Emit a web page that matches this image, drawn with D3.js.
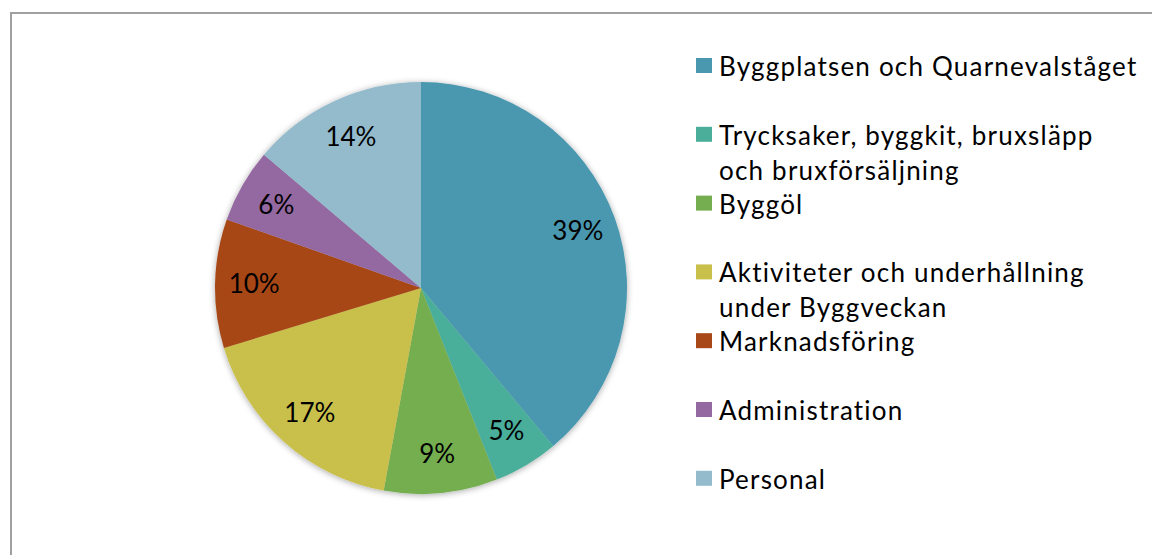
<!DOCTYPE html>
<html>
<head>
<meta charset="utf-8">
<script src="https://cdn.jsdelivr.net/npm/d3@7"></script>
<style>
  html, body { margin: 0; padding: 0; background: #fff; }
  svg { display: block; }
</style>
</head>
<body>
<div id="chart"></div>
<script>
// data
const categories = [
  "Byggplatsen och Quarnevalståget",
  "Trycksaker, byggkit, bruxsläpp|och bruxförsäljning",
  "Byggöl",
  "Aktiviteter och underhållning|under Byggveckan",
  "Marknadsföring",
  "Administration",
  "Personal"
];
const shares = [38.9, 5.1, 8.9, 17.4, 10.1, 5.8, 13.8];
const colors = ["#4a98b0", "#4aae9a", "#75ae50", "#c9bf4b", "#a84718", "#9468a0", "#93bbcc"];

const width = 1152, height = 555;

// pie dimensions
const cx = 421, cy = 288, radius = 206;
const labelRadius = radius * 0.81;

// legend layout
const legendX = 696, legendY = 76, legendStep = 68.8, lineHeight = 35, box = 16;

const svg = d3.select("#chart").append("svg")
  .attr("width", width)
  .attr("height", height);

// frame (only top and left edges visible)
svg.append("rect")
  .attr("x", 11).attr("y", 13)
  .attr("width", width + 20).attr("height", height + 20)
  .attr("fill", "none")
  .attr("stroke", "#a0a0a0")
  .attr("stroke-width", 2);

// soft shadow under the pie
const defs = svg.append("defs");
const shadow = defs.append("filter").attr("id", "shadow")
  .attr("x", "-10%").attr("y", "-10%").attr("width", "120%").attr("height", "120%");
shadow.append("feDropShadow")
  .attr("dx", 0).attr("dy", 1)
  .attr("stdDeviation", 3)
  .attr("flood-color", "#000")
  .attr("flood-opacity", 0.35);

const pie = d3.pie().value(d => d).sort(null);
const arc = d3.arc().innerRadius(0).outerRadius(radius);
const labelArc = d3.arc().innerRadius(labelRadius).outerRadius(labelRadius);

const pieGroup = svg.append("g")
  .attr("transform", `translate(${cx}, ${cy})`);

const arcs = pie(shares);

pieGroup.append("g")
  .attr("filter", "url(#shadow)")
  .selectAll("path")
  .data(arcs)
  .enter()
  .append("path")
  .attr("d", arc)
  .attr("fill", (d, i) => colors[i]);

// percentage labels
pieGroup.selectAll(".slice-label")
  .data(arcs)
  .enter()
  .append("text")
  .attr("class", "slice-label")
  .attr("transform", d => `translate(${labelArc.centroid(d)})`)
  .attr("text-anchor", "middle")
  .attr("dy", "0.35em")
  .style("font-family", "Lato, 'Open Sans', sans-serif")
  .style("font-size", "26px")
  .style("fill", "#000")
  .text(d => `${Math.round(d.data)}%`);

// legend
const legend = svg.append("g");

const rows = legend.selectAll(".legend-row")
  .data(categories)
  .enter()
  .append("g")
  .attr("class", "legend-row")
  .attr("transform", (d, i) => `translate(${legendX}, ${legendY + i * legendStep})`);

rows.append("rect")
  .attr("x", 0)
  .attr("y", -18)
  .attr("width", box)
  .attr("height", 15)
  .attr("fill", (d, i) => colors[i]);

rows.append("text")
  .attr("x", 23)
  .attr("y", 0)
  .style("font-family", "Lato, 'Noto Sans', sans-serif")
  .style("font-size", "26px")
  .style("letter-spacing", "1.2px")
  .style("fill", "#000")
  .each(function (d) {
    const t = d3.select(this);
    d.split("|").forEach((line, k) => {
      t.append("tspan")
        .attr("x", 23)
        .attr("dy", k === 0 ? 0 : lineHeight)
        .text(line);
    });
  });
</script>
</body>
</html>
